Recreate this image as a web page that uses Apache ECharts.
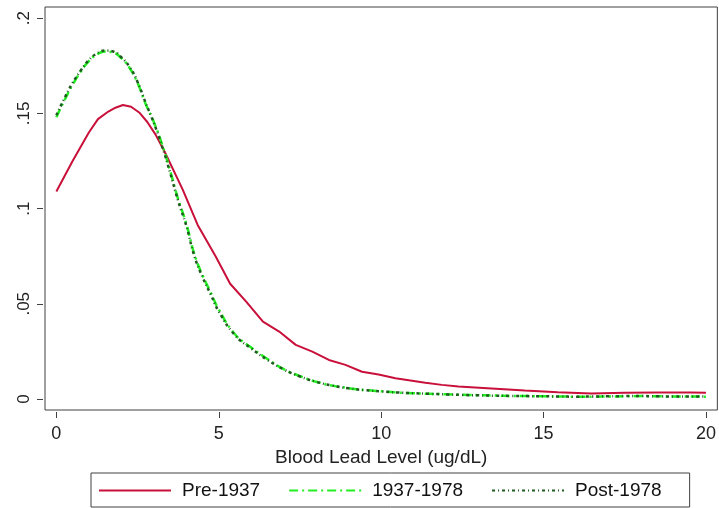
<!DOCTYPE html>
<html>
<head>
<meta charset="utf-8">
<script src="https://cdn.jsdelivr.net/npm/echarts@6/dist/echarts.min.js"></script>
<style>html,body{margin:0;padding:0;background:#fff;}#c{width:719px;height:508px;}</style>
</head>
<body>
<div id="c"></div>
<script>
const preXs = [0,0.5,1,1.28,1.6,1.82,2.05,2.3,2.55,2.8,3.05,3.33,3.89,4.35,4.91,5.35,5.85,6.36,6.86,7.37,7.88,8.39,8.9,9.41,9.92,10.44,10.9,11.36,11.87,12.38,13.4,14.42,15.44,16.47,17.49,18.51,19.53,20];
const pre1937 = [0.109,0.125,0.140,0.147,0.151,0.153,0.1544,0.1535,0.1505,0.1455,0.139,0.130,0.110,0.0914,0.0747,0.0605,0.051,0.0406,0.0354,0.0284,0.0249,0.0205,0.0179,0.0143,0.0128,0.0109,0.0097,0.0085,0.0074,0.0066,0.0055,0.0044,0.0035,0.0029,0.0033,0.0034,0.0034,0.0033];
const xs = [0,0.25,0.5,0.75,1,1.25,1.5,1.75,2,2.25,2.5,2.75,3,3.25,3.5,3.75,4,4.25,4.5,4.75,5,
  5.5,6,6.5,7,7.5,8,8.5,9,9.5,10,10.5,11,11.5,12,12.5,13,13.5,14,14.5,15,15.5,16,16.5,17,17.5,18,18.5,19,19.5,20];
const y1937_1978 = [0.148,0.157,0.165,0.172,0.1775,0.181,0.1825,0.182,0.179,0.174,0.166,0.155,0.1455,0.134,0.120,0.105,0.092,0.076,0.065,0.056,0.047,
  0.034,0.027,0.021,0.0157,0.012,0.009,0.007,0.0057,0.0047,0.004,0.0034,0.003,0.0027,0.0025,0.0022,0.002,0.0018,0.0016,0.0015,0.0014,0.0013,0.0012,0.0012,0.0013,0.0014,0.0015,0.0014,0.0013,0.0013,0.0012];
const post1978 = [0.149,0.158,0.166,0.1725,0.178,0.1815,0.183,0.1825,0.1795,0.1745,0.1665,0.1555,0.145,0.133,0.119,0.104,0.091,0.075,0.064,0.055,0.046,
  0.0335,0.0265,0.0205,0.0155,0.0118,0.009,0.007,0.0056,0.0046,0.004,0.0034,0.003,0.0027,0.0024,0.0021,0.0019,0.0017,0.0016,0.0015,0.0014,0.0013,0.0012,0.0013,0.0014,0.0015,0.0015,0.0014,0.0013,0.0013,0.0013];
const xTicks = [0,5,10,15,20];
const yTicks = [0,0.05,0.1,0.15,0.2];
const yTickLabels = ['0','.05','.1','.15','.2'];
const seriesNames = ['Pre-1937','1937-1978','Post-1978'];

const pairs = (xv, arr) => xv.map((x,i)=>[x,arr[i]]);
const FONT = "'Liberation Sans', Arial, sans-serif";
const chart = echarts.init(document.getElementById('c'), null, {renderer:'canvas'});
chart.setOption({
  animation:false,
  backgroundColor:'#fff',
  textStyle:{fontFamily:FONT},
  grid:{left:45, top:7, right:-2, bottom:98, show:true, borderColor:'#404040', borderWidth:1},
  xAxis:{
    type:'value', min:-0.35, max:20.35, offset:2,
    name:'Blood Lead Level (ug/dL)', nameLocation:'middle', nameGap:27,
    nameTextStyle:{fontSize:19, color:'#222', fontFamily:FONT},
    axisLine:{show:false, onZero:false},
    axisTick:{show:true, length:6, lineStyle:{color:'#404040'}, customValues:xTicks},
    axisLabel:{fontSize:18, color:'#222', margin:13, customValues:xTicks, fontFamily:FONT},
    splitLine:{show:false}
  },
  yAxis:{
    type:'value', min:-0.0058, max:0.2059, offset:2,
    axisLine:{show:false, onZero:false},
    axisTick:{show:true, length:6, lineStyle:{color:'#404040'}, customValues:yTicks},
    axisLabel:{fontSize:17, color:'#222', margin:10, rotate:90, customValues:yTicks, fontFamily:FONT,
      formatter: v => { const i = yTicks.findIndex(t=>Math.abs(t-v)<1e-9); return i>=0 ? yTickLabels[i] : ''; }},
    splitLine:{show:false}
  },
  legend:{
    left:91, top:473, orient:'horizontal',
    padding:[8,28,7,7], borderColor:'#404040', borderWidth:1,
    itemWidth:72, itemHeight:14, itemGap:28,
    itemStyle:{opacity:0},
    textStyle:{fontSize:19, color:'#111', fontFamily:FONT, padding:[0,0,0,6]},
    data:seriesNames
  },
  series:[
    {name:seriesNames[0], type:'line', data:pairs(preXs, pre1937), symbol:'none', smooth:false,
     lineStyle:{color:'#c8103a', width:2}, itemStyle:{color:'#c8103a'}},
    {name:seriesNames[1], type:'line', data:pairs(xs, y1937_1978), symbol:'none', smooth:true,
     lineStyle:{color:'#22ee22', width:2.5, type:[9,4,2,4]}, itemStyle:{color:'#22ee22'}},
    {name:seriesNames[2], type:'line', data:pairs(xs, post1978), symbol:'none', smooth:true,
     lineStyle:{color:'#1f5a1f', width:2.5, type:[3,3,1,3]}, itemStyle:{color:'#1f5a1f'}}
  ]
});
</script>
</body>
</html>
